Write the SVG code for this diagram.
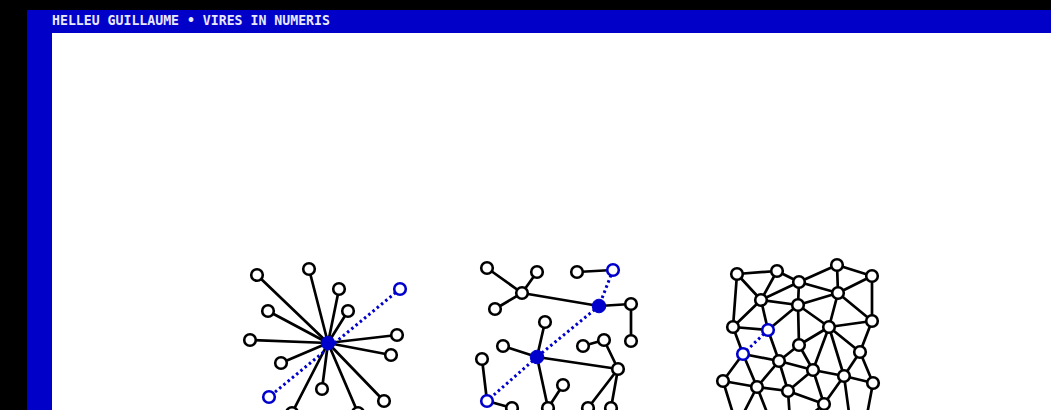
<svg xmlns="http://www.w3.org/2000/svg" width="1051" height="410" viewBox="0 0 1051 410">
<style>
.e{stroke:#000;stroke-width:2.7;fill:none;stroke-linecap:round}
.d{stroke:#0000cc;stroke-width:3;fill:none;stroke-dasharray:2.5 3}
.n{fill:#fff;stroke:#000;stroke-width:2.6}
.b{fill:#fff;stroke:#0000cc;stroke-width:2.6}
.f{fill:#0000cc;stroke:#0000cc;stroke-width:1}
.t{font-family:"DejaVu Sans Mono","Liberation Mono",monospace;font-weight:bold;font-size:13.2px;fill:#e8e8ff}
</style>
<rect x="0" y="0" width="1051" height="410" fill="#000"/>
<rect x="27" y="10" width="1024" height="400" fill="#0000c8"/>
<rect x="52" y="33" width="999" height="377" fill="#fff"/>
<g id="header"><text class="t" x="52" y="25">HELLEU GUILLAUME • VIRES IN NUMERIS</text></g>
<g id="connectors">
<line class="e" x1="328" y1="343" x2="257" y2="275"/>
<line class="e" x1="328" y1="343" x2="309" y2="269"/>
<line class="e" x1="328" y1="343" x2="339" y2="289"/>
<line class="e" x1="328" y1="343" x2="268" y2="311"/>
<line class="e" x1="328" y1="343" x2="348" y2="311"/>
<line class="e" x1="328" y1="343" x2="250" y2="340"/>
<line class="e" x1="328" y1="343" x2="397" y2="335"/>
<line class="e" x1="328" y1="343" x2="391" y2="355"/>
<line class="e" x1="328" y1="343" x2="281" y2="363"/>
<line class="e" x1="328" y1="343" x2="322" y2="389"/>
<line class="e" x1="328" y1="343" x2="384" y2="401"/>
<line class="e" x1="328" y1="343" x2="292" y2="413"/>
<line class="e" x1="328" y1="343" x2="358" y2="413"/>
<line class="d" x1="400" y1="289" x2="269" y2="397"/>
<line class="e" x1="487" y1="268" x2="522" y2="293"/>
<line class="e" x1="537" y1="272" x2="522" y2="293"/>
<line class="e" x1="495" y1="309" x2="522" y2="293"/>
<line class="e" x1="522" y1="293" x2="599" y2="306"/>
<line class="e" x1="577" y1="272" x2="613" y2="270"/>
<line class="e" x1="599" y1="306" x2="631" y2="304"/>
<line class="e" x1="631" y1="304" x2="631" y2="341"/>
<line class="e" x1="545" y1="322" x2="537" y2="357"/>
<line class="e" x1="503" y1="346" x2="537" y2="357"/>
<line class="e" x1="537" y1="357" x2="618" y2="369"/>
<line class="e" x1="537" y1="357" x2="548" y2="408"/>
<line class="e" x1="563" y1="385" x2="548" y2="408"/>
<line class="e" x1="482" y1="359" x2="487" y2="401"/>
<line class="e" x1="487" y1="401" x2="512" y2="408"/>
<line class="e" x1="583" y1="346" x2="604" y2="340"/>
<line class="e" x1="604" y1="340" x2="618" y2="369"/>
<line class="e" x1="618" y1="369" x2="588" y2="408"/>
<line class="e" x1="618" y1="369" x2="611" y2="408"/>
<line class="d" x1="613" y1="270" x2="599" y2="306"/>
<line class="d" x1="599" y1="306" x2="537" y2="357"/>
<line class="d" x1="537" y1="357" x2="487" y2="401"/>
<line class="e" x1="737" y1="274" x2="777" y2="271"/>
<line class="e" x1="777" y1="271" x2="799" y2="282"/>
<line class="e" x1="799" y1="282" x2="837" y2="265"/>
<line class="e" x1="837" y1="265" x2="872" y2="276"/>
<line class="e" x1="737" y1="274" x2="761" y2="300"/>
<line class="e" x1="777" y1="271" x2="761" y2="300"/>
<line class="e" x1="761" y1="300" x2="799" y2="282"/>
<line class="e" x1="799" y1="282" x2="838" y2="293"/>
<line class="e" x1="837" y1="265" x2="838" y2="293"/>
<line class="e" x1="872" y1="276" x2="838" y2="293"/>
<line class="e" x1="872" y1="276" x2="872" y2="321"/>
<line class="e" x1="838" y1="293" x2="872" y2="321"/>
<line class="e" x1="761" y1="300" x2="798" y2="305"/>
<line class="e" x1="799" y1="282" x2="798" y2="305"/>
<line class="e" x1="838" y1="293" x2="798" y2="305"/>
<line class="e" x1="798" y1="305" x2="829" y2="327"/>
<line class="e" x1="838" y1="293" x2="829" y2="327"/>
<line class="e" x1="829" y1="327" x2="872" y2="321"/>
<line class="e" x1="737" y1="274" x2="733" y2="327"/>
<line class="e" x1="761" y1="300" x2="733" y2="327"/>
<line class="e" x1="761" y1="300" x2="768" y2="330"/>
<line class="e" x1="798" y1="305" x2="768" y2="330"/>
<line class="e" x1="733" y1="327" x2="768" y2="330"/>
<line class="e" x1="733" y1="327" x2="743" y2="354"/>
<line class="e" x1="768" y1="330" x2="779" y2="361"/>
<line class="e" x1="798" y1="305" x2="799" y2="345"/>
<line class="e" x1="799" y1="345" x2="829" y2="327"/>
<line class="e" x1="799" y1="345" x2="779" y2="361"/>
<line class="e" x1="799" y1="345" x2="813" y2="370"/>
<line class="e" x1="829" y1="327" x2="813" y2="370"/>
<line class="e" x1="829" y1="327" x2="844" y2="376"/>
<line class="e" x1="829" y1="327" x2="860" y2="352"/>
<line class="e" x1="872" y1="321" x2="860" y2="352"/>
<line class="e" x1="860" y1="352" x2="844" y2="376"/>
<line class="e" x1="860" y1="352" x2="873" y2="383"/>
<line class="e" x1="844" y1="376" x2="873" y2="383"/>
<line class="e" x1="813" y1="370" x2="844" y2="376"/>
<line class="e" x1="743" y1="354" x2="779" y2="361"/>
<line class="e" x1="779" y1="361" x2="813" y2="370"/>
<line class="e" x1="743" y1="354" x2="723" y2="381"/>
<line class="e" x1="743" y1="354" x2="757" y2="387"/>
<line class="e" x1="779" y1="361" x2="757" y2="387"/>
<line class="e" x1="779" y1="361" x2="788" y2="391"/>
<line class="e" x1="813" y1="370" x2="788" y2="391"/>
<line class="e" x1="813" y1="370" x2="824" y2="404"/>
<line class="e" x1="844" y1="376" x2="824" y2="404"/>
<line class="e" x1="723" y1="381" x2="757" y2="387"/>
<line class="e" x1="757" y1="387" x2="788" y2="391"/>
<line class="e" x1="788" y1="391" x2="824" y2="404"/>
<line class="e" x1="723" y1="381" x2="735" y2="420"/>
<line class="e" x1="757" y1="387" x2="740" y2="420"/>
<line class="e" x1="757" y1="387" x2="770" y2="420"/>
<line class="e" x1="788" y1="391" x2="790" y2="420"/>
<line class="e" x1="824" y1="404" x2="805" y2="420"/>
<line class="e" x1="844" y1="376" x2="850" y2="420"/>
<line class="e" x1="873" y1="383" x2="866" y2="420"/>
<line class="d" x1="768" y1="330" x2="743" y2="354"/>
</g>
<g id="s1"><circle class="n" cx="257" cy="275" r="5.8"/></g>
<g id="s2"><circle class="n" cx="309" cy="269" r="5.8"/></g>
<g id="s3"><circle class="n" cx="339" cy="289" r="5.8"/></g>
<g id="s4"><circle class="n" cx="268" cy="311" r="5.8"/></g>
<g id="s5"><circle class="n" cx="348" cy="311" r="5.8"/></g>
<g id="s6"><circle class="n" cx="250" cy="340" r="5.8"/></g>
<g id="s7"><circle class="n" cx="397" cy="335" r="5.8"/></g>
<g id="s8"><circle class="n" cx="391" cy="355" r="5.8"/></g>
<g id="s9"><circle class="n" cx="281" cy="363" r="5.8"/></g>
<g id="s10"><circle class="n" cx="322" cy="389" r="5.8"/></g>
<g id="s11"><circle class="n" cx="384" cy="401" r="5.8"/></g>
<g id="s12"><circle class="n" cx="292" cy="413" r="5.8"/></g>
<g id="s13"><circle class="n" cx="358" cy="413" r="5.8"/></g>
<g id="s14"><circle class="b" cx="400" cy="289" r="5.8"/></g>
<g id="s15"><circle class="b" cx="269" cy="397" r="5.8"/></g>
<g id="s0"><circle class="f" cx="328" cy="343" r="6.8"/></g>
<g id="tA"><circle class="n" cx="487" cy="268" r="5.8"/></g>
<g id="tB"><circle class="n" cx="537" cy="272" r="5.8"/></g>
<g id="tC"><circle class="n" cx="522" cy="293" r="5.8"/></g>
<g id="tD"><circle class="n" cx="495" cy="309" r="5.8"/></g>
<g id="tE"><circle class="n" cx="577" cy="272" r="5.8"/></g>
<g id="tF"><circle class="b" cx="613" cy="270" r="5.8"/></g>
<g id="tG"><circle class="f" cx="599" cy="306" r="6.8"/></g>
<g id="tH"><circle class="n" cx="631" cy="304" r="5.8"/></g>
<g id="tI"><circle class="n" cx="631" cy="341" r="5.8"/></g>
<g id="tJ"><circle class="n" cx="545" cy="322" r="5.8"/></g>
<g id="tK"><circle class="n" cx="503" cy="346" r="5.8"/></g>
<g id="tL"><circle class="f" cx="537" cy="357" r="6.8"/></g>
<g id="tM"><circle class="n" cx="482" cy="359" r="5.8"/></g>
<g id="tN"><circle class="b" cx="487" cy="401" r="5.8"/></g>
<g id="tO"><circle class="n" cx="512" cy="408" r="5.8"/></g>
<g id="tP"><circle class="n" cx="548" cy="408" r="5.8"/></g>
<g id="tQ"><circle class="n" cx="563" cy="385" r="5.8"/></g>
<g id="tR"><circle class="n" cx="583" cy="346" r="5.8"/></g>
<g id="tS"><circle class="n" cx="604" cy="340" r="5.8"/></g>
<g id="tT"><circle class="n" cx="618" cy="369" r="5.8"/></g>
<g id="tU"><circle class="n" cx="588" cy="408" r="5.8"/></g>
<g id="tV"><circle class="n" cx="611" cy="408" r="5.8"/></g>
<g id="m1"><circle class="n" cx="737" cy="274" r="5.8"/></g>
<g id="m2"><circle class="n" cx="777" cy="271" r="5.8"/></g>
<g id="m3"><circle class="n" cx="799" cy="282" r="5.8"/></g>
<g id="m4"><circle class="n" cx="837" cy="265" r="5.8"/></g>
<g id="m5"><circle class="n" cx="872" cy="276" r="5.8"/></g>
<g id="m6"><circle class="n" cx="761" cy="300" r="5.8"/></g>
<g id="m7"><circle class="n" cx="838" cy="293" r="5.8"/></g>
<g id="m8"><circle class="n" cx="798" cy="305" r="5.8"/></g>
<g id="m9"><circle class="n" cx="733" cy="327" r="5.8"/></g>
<g id="m10"><circle class="b" cx="768" cy="330" r="5.8"/></g>
<g id="m11"><circle class="n" cx="829" cy="327" r="5.8"/></g>
<g id="m12"><circle class="n" cx="872" cy="321" r="5.8"/></g>
<g id="m13"><circle class="n" cx="799" cy="345" r="5.8"/></g>
<g id="m14"><circle class="b" cx="743" cy="354" r="5.8"/></g>
<g id="m15"><circle class="n" cx="779" cy="361" r="5.8"/></g>
<g id="m16"><circle class="n" cx="860" cy="352" r="5.8"/></g>
<g id="m17"><circle class="n" cx="813" cy="370" r="5.8"/></g>
<g id="m18"><circle class="n" cx="844" cy="376" r="5.8"/></g>
<g id="m19"><circle class="n" cx="723" cy="381" r="5.8"/></g>
<g id="m20"><circle class="n" cx="757" cy="387" r="5.8"/></g>
<g id="m21"><circle class="n" cx="788" cy="391" r="5.8"/></g>
<g id="m22"><circle class="n" cx="873" cy="383" r="5.8"/></g>
<g id="m23"><circle class="n" cx="824" cy="404" r="5.8"/></g>
</svg>
